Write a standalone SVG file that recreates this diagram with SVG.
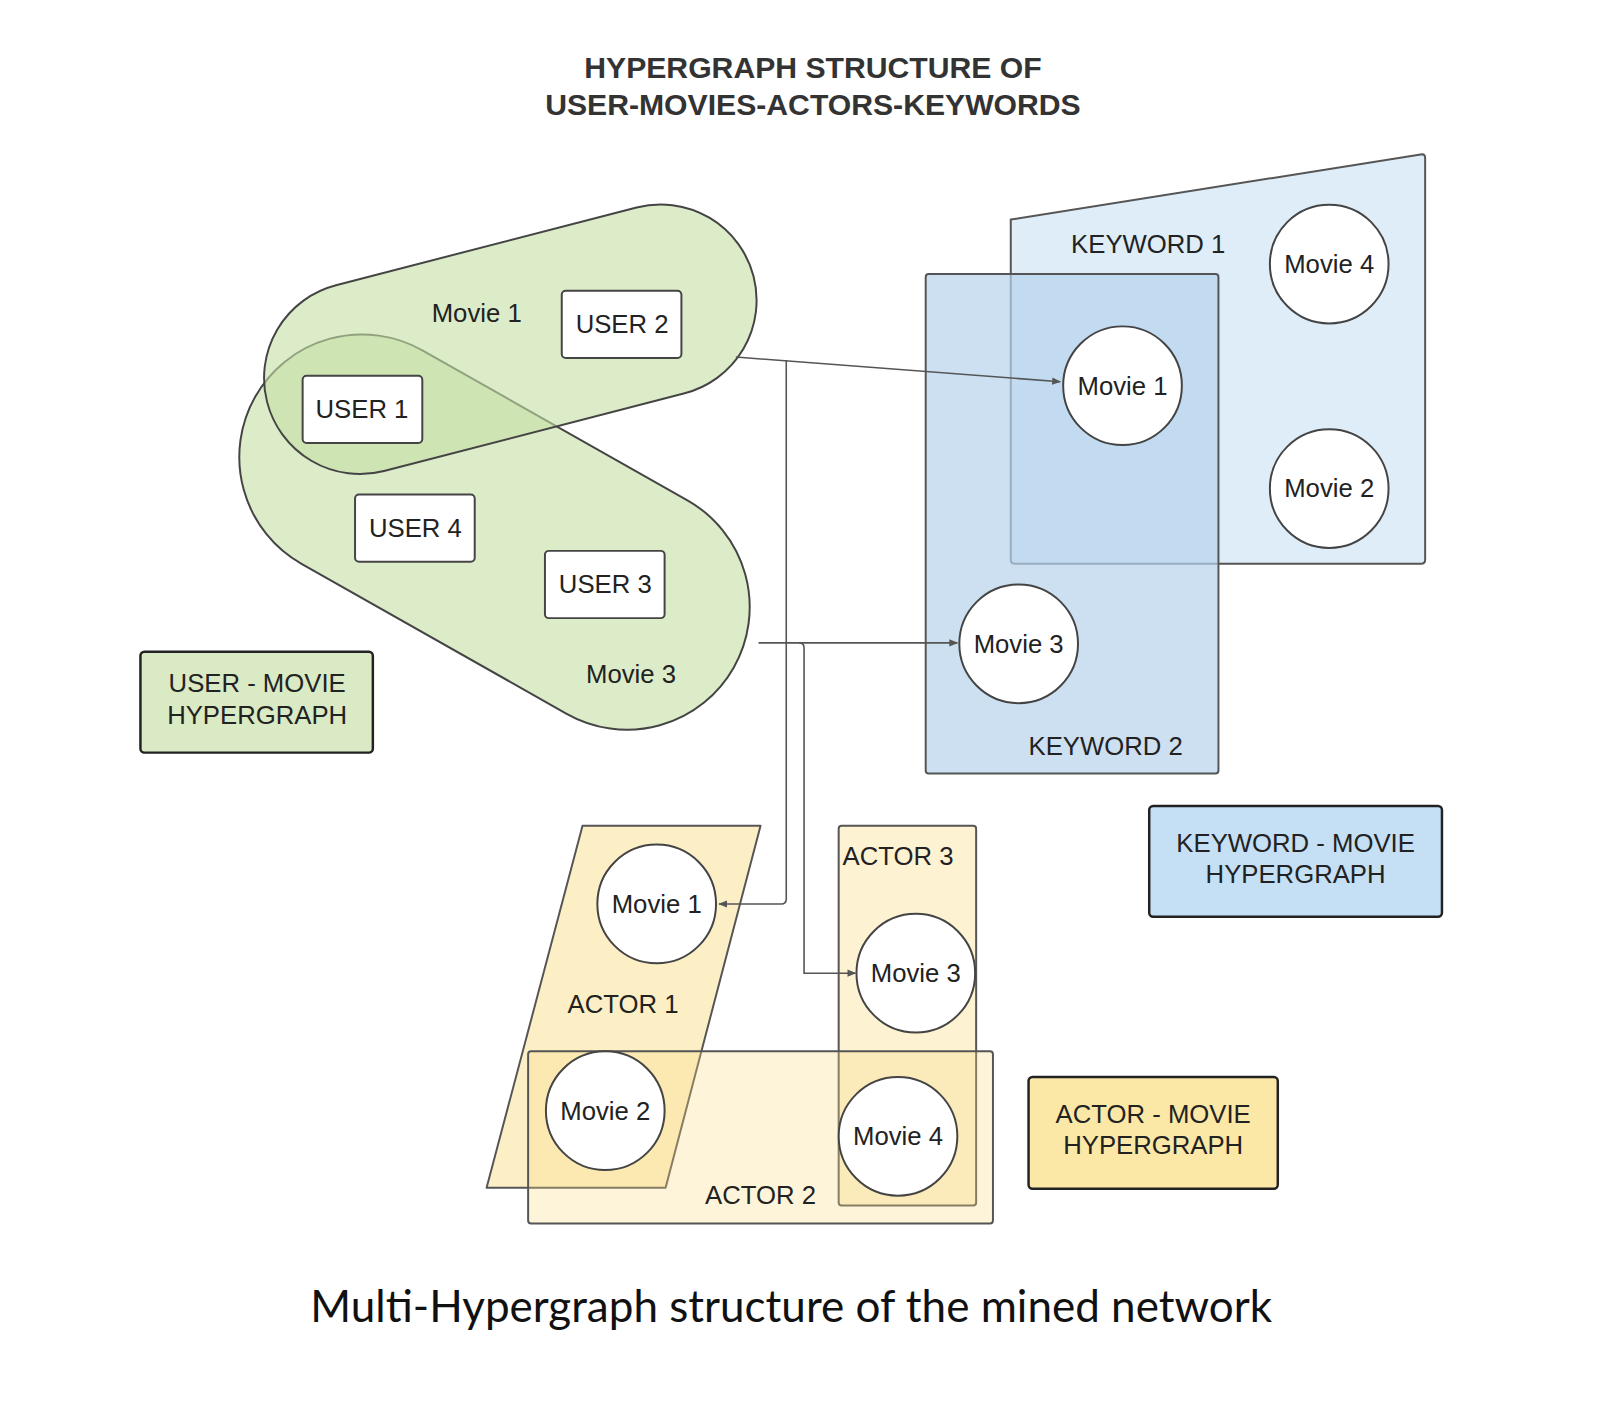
<svg xmlns="http://www.w3.org/2000/svg" width="1616" height="1408" viewBox="0 0 1616 1408">
<defs>
<style>
text{font-family:"Liberation Sans",Arial,sans-serif;font-size:26px;fill:#222;text-anchor:middle}
.title{font-weight:bold;font-size:30.5px;fill:#333}
.cap{font-family:Lato,"Liberation Sans",sans-serif;font-size:44.5px;fill:#111}
.ub{fill:#fff;stroke:#444;stroke-width:2}
.mc{fill:#fff;stroke:#444;stroke-width:2}
.edge{fill:none;stroke:#555;stroke-width:1.6}
.grn{fill:#c5e0a5;fill-opacity:0.6;stroke:#444;stroke-width:2}
</style>
<marker id="ah" viewBox="0 0 10 10" refX="9" refY="5" markerWidth="9" markerHeight="9" orient="auto" markerUnits="userSpaceOnUse"><path d="M0,1 L10,5 L0,9 z" fill="#555"/></marker>
</defs>
<rect width="1616" height="1408" fill="#fff"/>
<g transform="scale(0.989)">
<text class="title" x="822" y="79">HYPERGRAPH STRUCTURE OF</text>
<text class="title" x="822" y="116">USER-MOVIES-ACTORS-KEYWORDS</text>

<g id="user-movie">
<rect class="grn" x="222" y="414" width="556" height="248" rx="124" transform="rotate(29.5 500 538)"/>
<rect class="grn" x="262" y="246" width="508" height="194" rx="97" transform="rotate(-14.5 516 343)"/>
<text x="482" y="326">Movie 1</text>
<text x="638" y="691">Movie 3</text>
</g>
<g id="user1"><rect class="ub" x="306" y="380" width="121" height="68" rx="4"/><text x="366" y="423">USER 1</text></g>
<g id="user2"><rect class="ub" x="568" y="294" width="121" height="68" rx="4"/><text x="629" y="337">USER 2</text></g>
<g id="user4"><rect class="ub" x="359" y="500" width="121" height="68" rx="4"/><text x="420" y="543">USER 4</text></g>
<g id="user3"><rect class="ub" x="551" y="557" width="121" height="68" rx="4"/><text x="612" y="600">USER 3</text></g>
<g id="legend-user"><rect x="142" y="659" width="235" height="102" rx="4" fill="#d9eac4" stroke="#222" stroke-width="2.5"/><text x="260" y="700">USER - MOVIE</text><text x="260" y="732">HYPERGRAPH</text></g>

<g id="keyword1"><path d="M1022,222 L1438,156 Q1441,156 1441,160 L1441,566 Q1441,570 1437,570 L1026,570 Q1022,570 1022,566 Z" fill="#deedf8" stroke="#555" stroke-width="2"/><text x="1161" y="256">KEYWORD 1</text></g>
<g id="keyword2"><rect x="936" y="277" width="296" height="505" rx="3" fill="#b7d3ec" fill-opacity="0.7" stroke="#555" stroke-width="2"/><text x="1118" y="763">KEYWORD 2</text></g>
<g id="k-movie4"><circle class="mc" cx="1344" cy="267" r="60"/><text x="1344" y="276">Movie 4</text></g>
<g id="k-movie1"><circle class="mc" cx="1135" cy="390" r="60"/><text x="1135" y="399">Movie 1</text></g>
<g id="k-movie2"><circle class="mc" cx="1344" cy="494" r="60"/><text x="1344" y="503">Movie 2</text></g>
<g id="k-movie3"><circle class="mc" cx="1030" cy="651" r="60"/><text x="1030" y="660">Movie 3</text></g>
<g id="legend-keyword"><rect x="1162" y="815" width="296" height="112" rx="4" fill="#c5dff5" stroke="#222" stroke-width="2.5"/><text x="1310" y="861">KEYWORD - MOVIE</text><text x="1310" y="893">HYPERGRAPH</text></g>

<g id="actor1"><path d="M589,835 L769,835 L673,1201 L492,1201 Z" fill="#f9dc80" fill-opacity="0.45" stroke="#555" stroke-width="2" stroke-linejoin="round"/><text x="630" y="1024">ACTOR 1</text></g>
<g id="actor3"><rect x="848" y="835" width="139" height="384" rx="3" fill="#f9dc80" fill-opacity="0.35" stroke="#555" stroke-width="2"/><text x="908" y="875">ACTOR 3</text></g>
<g id="actor2"><rect x="534" y="1063" width="470" height="174" rx="3" fill="#f9dc80" fill-opacity="0.3" stroke="#555" stroke-width="2"/><text x="769" y="1217">ACTOR 2</text></g>
<g id="a-movie1"><circle class="mc" cx="664" cy="914" r="60"/><text x="664" y="923">Movie 1</text></g>
<g id="a-movie3"><circle class="mc" cx="926" cy="984" r="60"/><text x="926" y="993">Movie 3</text></g>
<g id="a-movie2"><circle class="mc" cx="612" cy="1123" r="60"/><text x="612" y="1132">Movie 2</text></g>
<g id="a-movie4"><circle class="mc" cx="908" cy="1149" r="60"/><text x="908" y="1158">Movie 4</text></g>
<g id="legend-actor"><rect x="1040" y="1089" width="252" height="113" rx="4" fill="#fbe8a6" stroke="#222" stroke-width="2.5"/><text x="1166" y="1135">ACTOR - MOVIE</text><text x="1166" y="1167">HYPERGRAPH</text></g>

<g id="connectors">
<path class="edge" d="M744,361 L1072,386" marker-end="url(#ah)"/>
<path class="edge" d="M795,364 L795,909 Q795,914 790,914 L727,914" marker-end="url(#ah)"/>
<path class="edge" d="M767,650 L968,650" marker-end="url(#ah)"/>
<path class="edge" d="M808,650 Q813,650 813,655 L813,984 L865,984" marker-end="url(#ah)"/>
</g>

<text class="cap" x="800" y="1337">Multi-Hypergraph structure of the mined network</text>
</g>
</svg>
